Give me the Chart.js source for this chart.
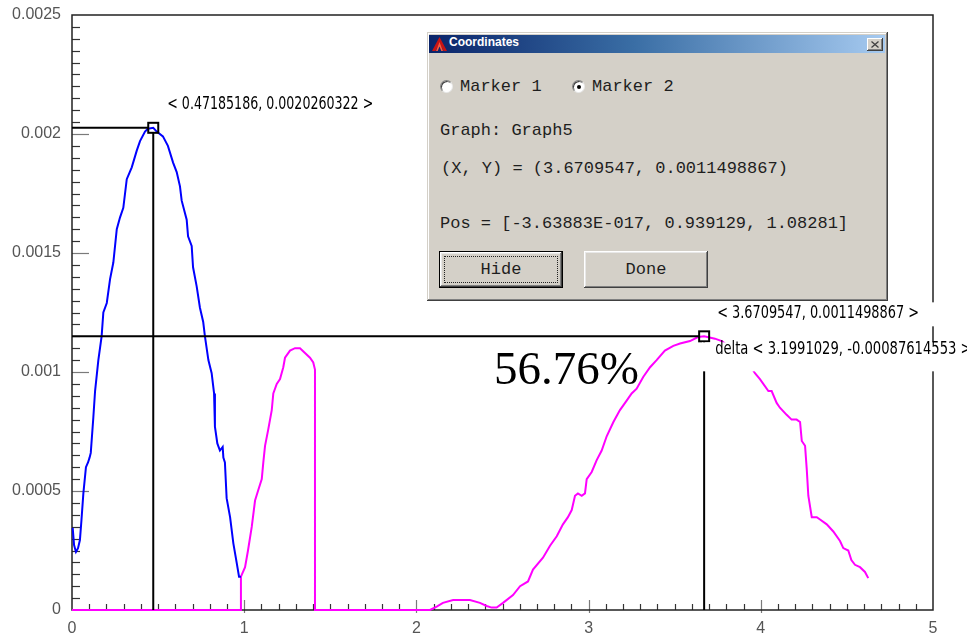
<!DOCTYPE html>
<html>
<head>
<meta charset="utf-8">
<title>Coordinates – Graph5</title>
<script src="https://cdn.jsdelivr.net/npm/chart.js@4.4.1/dist/chart.umd.min.js"></script>
<style>
  html, body { margin: 0; padding: 0; background: #ffffff; }
  #wrap { position: relative; width: 967px; height: 635px; overflow: hidden; }
  #plot { position: absolute; left: 0; top: 0; }
  .dlg {
    position: absolute; left: 427px; top: 32px; width: 461px; height: 269px;
    background: #d4d0c8; box-sizing: border-box;
    box-shadow: inset -1px -1px #404040, inset 1px 1px #d4d0c8,
                inset -2px -2px #808080, inset 2px 2px #ffffff;
    font-family: "Liberation Mono", "DejaVu Sans Mono", monospace;
    color: #1e1e1e;
  }
  .cap {
    position: absolute; left: 2px; top: 3px; width: 456px; height: 18px;
    background: linear-gradient(to right, #0a246a 0%, #3a6ea5 45%, #a6caf0 100%);
  }
  .cap .ttl {
    position: absolute; left: 20px; top: 0; line-height: 18px;
    font: bold 12px "Liberation Sans", "DejaVu Sans", sans-serif; color: #ffffff;
  }
  .cap svg.ico { position: absolute; left: 3px; top: 2px; }
  .cap .cls {
    position: absolute; left: 438px; top: 3px; width: 16px; height: 13px; box-sizing: border-box;
    background: #d4d0c8;
    box-shadow: inset -1px -1px #404040, inset 1px 1px #ffffff, inset -2px -2px #808080;
  }
  .cap .cls svg { position: absolute; left: 4px; top: 3px; }
  .txt { position: absolute; font-size: 17px; line-height: 20px; white-space: pre; }
  .radio {
    position: absolute; width: 13px; height: 13px; box-sizing: border-box; border-radius: 50%;
    background: #ffffff; border: 1px solid #808080; border-right-color: #e8e8e8; border-bottom-color: #e8e8e8;
    box-shadow: inset 1px 1px #404040;
  }
  .radio.on::after {
    content: ""; position: absolute; left: 4px; top: 4px; width: 4px; height: 4px;
    border-radius: 50%; background: #000000;
  }
  .btn {
    position: absolute; top: 219px; width: 124px; height: 37px; box-sizing: border-box;
    background: #d4d0c8; text-align: center; line-height: 37px; font-size: 17px;
    box-shadow: inset -1px -1px #404040, inset 1px 1px #ffffff,
                inset -2px -2px #808080, inset 2px 2px #e8e8e8;
  }
  .btn.def { border: 1px solid #000000; line-height: 35px; }
  .btn.def::after {
    content: ""; position: absolute; left: 4px; top: 4px; right: 4px; bottom: 4px;
    border: 1px dotted #222222;
  }
</style>
</head>
<body>
<div id="wrap">
  <canvas id="plot" width="967" height="635"></canvas>

  <div class="dlg">
    <div class="cap">
      <svg class="ico" width="15" height="14" viewBox="0 0 15 14">
        <polygon points="7.5,0 15,14 11.5,14 7.5,6 3.5,14 0,14" fill="#c81414"/>
        <polygon points="7.5,5 11,14 9.3,14 7.5,9.5 5.7,14 4,14" fill="#ff5a3c"/>
      </svg>
      <span class="ttl">Coordinates</span>
      <div class="cls">
        <svg width="8" height="7" viewBox="0 0 8 7">
          <path d="M0.5,0.5 L7.5,6.5 M7.5,0.5 L0.5,6.5" stroke="#404040" stroke-width="1.3"/>
        </svg>
      </div>
    </div>

    <div class="radio" style="left:13px; top:48px;"></div>
    <div class="txt" style="left:33px; top:45px;">Marker 1</div>
    <div class="radio on" style="left:145px; top:48px;"></div>
    <div class="txt" style="left:165px; top:45px;">Marker 2</div>

    <div class="txt" style="left:13px; top:89px;">Graph: Graph5</div>
    <div class="txt" id="xyLine" style="left:14px; top:127px;"></div>
    <div class="txt" style="left:13px; top:182px;">Pos = [-3.63883E-017, 0.939129, 1.08281]</div>

    <div class="btn def" style="left:12px;">Hide</div>
    <div class="btn" style="left:157px;">Done</div>
  </div>
</div>

<script>
// ---- axis ranges and tick labels ----
const xMin = 0, xMax = 5;
const yMin = 0, yMax = 0.0025;
const xTickLabels = ['0', '1', '2', '3', '4', '5'];
const yTickLabels = ['0', '0.0005', '0.001', '0.0015', '0.002', '0.0025'];

// ---- Graph 1 (blue trace) ----
const blueX = [0.004, 0.012, 0.023, 0.035, 0.046, 0.055, 0.066, 0.081, 0.093, 0.102,
  0.109, 0.124, 0.134, 0.153, 0.172, 0.182, 0.202, 0.221, 0.240, 0.260,
  0.279, 0.298, 0.318, 0.347, 0.376, 0.395, 0.424, 0.441, 0.47185186, 0.492,
  0.528, 0.557, 0.587, 0.608, 0.627, 0.637, 0.666, 0.674, 0.695, 0.703,
  0.724, 0.743, 0.762, 0.772, 0.792, 0.811, 0.825, 0.830, 0.844, 0.859,
  0.875, 0.879, 0.888, 0.898, 0.918, 0.937, 0.956, 0.970, 0.981];
const blueY = [0.000345, 0.000273, 0.000244, 0.00026, 0.000294, 0.000378, 0.00049, 0.0006, 0.00062, 0.00064,
  0.00066, 0.00081, 0.00092, 0.00105, 0.00115, 0.00125, 0.00129, 0.00139, 0.00146, 0.0016,
  0.00165, 0.00169, 0.00181, 0.00186, 0.00193, 0.00197, 0.00201, 0.002022, 0.0020260322, 0.00201,
  0.00199, 0.00195, 0.00188, 0.00184, 0.00178, 0.00172, 0.00164, 0.00157, 0.00153, 0.00144,
  0.00136, 0.00127, 0.00121, 0.00115, 0.00105, 0.000995, 0.00091, 0.00077, 0.0007, 0.00067,
  0.000685, 0.00064, 0.00062, 0.00047, 0.00039, 0.00028, 0.0002, 0.00014, 0.00014];

// ---- Graph 5 (magenta trace) ----
const magentaX = [0, 0.981, 0.981, 1.005, 1.022, 1.044, 1.063, 1.080, 1.102, 1.111,
  1.121, 1.140, 1.160, 1.169, 1.189, 1.208, 1.227, 1.237, 1.266, 1.295,
  1.324, 1.353, 1.382, 1.401, 1.411, 1.411, 2.079, 2.118, 2.154, 2.213,
  2.311, 2.369, 2.408, 2.437, 2.466, 2.503, 2.561, 2.602, 2.648, 2.677,
  2.735, 2.776, 2.815, 2.851, 2.880, 2.902, 2.921, 2.938, 2.960, 2.979,
  2.989, 3.018, 3.047, 3.076, 3.105, 3.144, 3.182, 3.221, 3.250, 3.279,
  3.318, 3.357, 3.395, 3.443, 3.492, 3.531, 3.589, 3.635, 3.6709547, 3.734,
  3.773, 3.850, 3.926, 3.966, 3.995, 4.044, 4.063, 4.092, 4.111, 4.150,
  4.179, 4.208, 4.228, 4.238, 4.257, 4.267, 4.276, 4.296, 4.325, 4.344,
  4.383, 4.421, 4.460, 4.479, 4.508, 4.526, 4.547, 4.576, 4.605, 4.624];
const magentaY = [0, 0, 0.00014, 0.00018, 0.00025, 0.00035, 0.00046, 0.0005, 0.00055, 0.00062,
  0.00069, 0.00076, 0.00084, 0.00091, 0.00095, 0.00097, 0.00102, 0.00106, 0.00109, 0.0011,
  0.0011, 0.00108, 0.00106, 0.00104, 0.00101, 0, 0, 0.000014, 0.00003, 0.000042,
  0.000042, 0.00003, 0.000017, 0.00001, 0.00001, 0.00003, 0.000063, 0.0001, 0.00012, 0.00017,
  0.00022, 0.00027, 0.00031, 0.00036, 0.00039, 0.00042, 0.00048, 0.00049, 0.00048, 0.00049,
  0.00055, 0.00058, 0.00063, 0.00067, 0.00073, 0.00079, 0.00084, 0.00088, 0.00091, 0.00093,
  0.00098, 0.00102, 0.00105, 0.00109, 0.00111, 0.00112, 0.00113, 0.001147, 0.0011498867, 0.00114,
  0.00113, 0.00109, 0.00104, 0.000995, 0.00097, 0.00092, 0.00092, 0.00087, 0.00085, 0.00082,
  0.0008, 0.0008, 0.00079, 0.00071, 0.00069, 0.00059, 0.00048, 0.00039, 0.00039, 0.00038,
  0.00036, 0.00033, 0.00029, 0.00026, 0.00025, 0.00021, 0.00019, 0.00018, 0.00016, 0.000134];

// ---- markers: marker 1 on the blue trace, marker 2 on the magenta trace ----
const markerX = [0.47185186, 3.6709547];
const markerY = [0.0020260322, 0.0011498867];
const markerText = ['< 0.47185186, 0.0020260322 >', '< 3.6709547, 0.0011498867 >'];
const deltaText = 'delta < 3.1991029, -0.00087614553 >';

// peak ratio printed on the plot (marker 2 / marker 1)
const ratioText = (markerY[1] / markerY[0] * 100).toFixed(2) + '%';

document.getElementById('xyLine').textContent =
  '(X, Y) = (' + markerX[1].toFixed(7) + ', ' + markerY[1].toFixed(10) + ')';

const toPoints = (xs, ys) => xs.map((x, i) => ({ x, y: ys[i] }));

const LABEL_FONT = '17px "Liberation Sans Narrow", "DejaVu Sans Condensed", "Liberation Sans", sans-serif';
const AXIS_FONT = { family: '"Liberation Sans", "DejaVu Sans", sans-serif', size: 16 };

// Frame, inward tick marks, crosshairs and marker readouts
const overlay = {
  id: 'overlay',
  beforeDatasetsDraw(chart) {
    const { ctx, chartArea: a, scales: { x, y } } = chart;
    ctx.save();
    ctx.lineWidth = 1.2;
    // y ticks: minor every 0.00005, major every 0.0005
    for (let i = 1; i < 50; i++) {
      const py = Math.round(y.getPixelForValue(i * 0.00005)) + 0.5;
      const major = i % 10 === 0;
      ctx.strokeStyle = major ? '#7a7a7a' : '#333333';
      ctx.beginPath();
      ctx.moveTo(a.left, py);
      ctx.lineTo(a.left + (major ? 17 : 8), py);
      ctx.stroke();
    }
    // x ticks: minor every 0.1, major every 1
    for (let i = 1; i < 50; i++) {
      const px = Math.round(x.getPixelForValue(i * 0.1)) + 0.5;
      const major = i % 10 === 0;
      ctx.strokeStyle = major ? '#7a7a7a' : '#333333';
      ctx.beginPath();
      ctx.moveTo(px, a.bottom + (major ? 3 : 0));
      ctx.lineTo(px, a.bottom - (major ? 10 : 6));
      ctx.stroke();
    }
    // frame
    ctx.strokeStyle = '#222222';
    ctx.lineWidth = 1.5;
    ctx.strokeRect(a.left, a.top, a.right - a.left, a.bottom - a.top);
    ctx.restore();
  },
  afterDatasetsDraw(chart) {
    const { ctx, chartArea: a, scales: { x, y } } = chart;
    const mx = markerX.map(v => x.getPixelForValue(v));
    const my = markerY.map(v => y.getPixelForValue(v));
    ctx.save();

    // crosshair lines and square markers
    ctx.strokeStyle = '#000000';
    ctx.lineWidth = 2;
    for (let i = 0; i < 2; i++) {
      ctx.beginPath();
      ctx.moveTo(a.left, my[i]);
      ctx.lineTo(mx[i] - 5, my[i]);
      ctx.moveTo(mx[i], my[i] + 5);
      ctx.lineTo(mx[i], a.bottom);
      ctx.stroke();
      ctx.strokeRect(mx[i] - 5, my[i] - 5, 10, 10);
    }

    // readout labels on white boxes
    ctx.font = LABEL_FONT;
    ctx.textBaseline = 'middle';
    const squeeze = 206 / ctx.measureText(markerText[0]).width;
    const tag = (text, tx, ty, box, stretch) => {
      ctx.fillStyle = '#ffffff';
      ctx.fillRect(box[0], box[1], box[2] - box[0], box[3] - box[1]);
      ctx.fillStyle = '#000000';
      ctx.save();
      ctx.translate(tx, ty);
      ctx.scale(squeeze * stretch, 1);
      ctx.fillText(text, 0, 0);
      ctx.restore();
    };
    tag(markerText[0], mx[0] + 14, my[0] - 23, [mx[0] + 8, my[0] - 35, mx[0] + 230, my[0] - 11], 1);
    tag(markerText[1], mx[1] + 13, my[1] - 23, [mx[1] + 4, my[1] - 34, a.right + 3, my[1] - 10], 1.02);
    tag(deltaText, mx[1] + 11, my[1] + 13, [mx[1] - 2, my[1] + 6, chart.width, my[1] + 35], 1.04);

    // ratio of the two marked peaks
    ctx.fillStyle = '#000000';
    ctx.font = '47px "Liberation Serif", "Times New Roman", serif';
    ctx.textBaseline = 'alphabetic';
    ctx.fillText(ratioText, 494, 384);
    ctx.restore();
  }
};

new Chart(document.getElementById('plot'), {
  type: 'scatter',
  data: {
    datasets: [
      {
        label: 'Graph1',
        data: toPoints(blueX, blueY),
        showLine: true,
        borderColor: '#0000ff',
        borderWidth: 2,
        pointRadius: 0,
        tension: 0,
        clip: false
      },
      {
        label: 'Graph5',
        data: toPoints(magentaX, magentaY),
        showLine: true,
        borderColor: '#ff00ff',
        borderWidth: 2,
        pointRadius: 0,
        tension: 0,
        clip: false
      }
    ]
  },
  options: {
    responsive: false,
    animation: false,
    events: [],
    layout: { padding: { top: 15, right: 34, left: 0, bottom: 0 } },
    plugins: { legend: { display: false }, tooltip: { enabled: false } },
    scales: {
      x: {
        type: 'linear', min: xMin, max: xMax,
        grid: { display: false, drawTicks: true, tickLength: 9 },
        border: { display: false },
        ticks: {
          stepSize: 1, padding: 0, color: '#555555', font: AXIS_FONT,
          maxRotation: 0,
          callback: (v, i) => xTickLabels[i]
        },
        afterFit: s => { s.height = 25; }
      },
      y: {
        type: 'linear', min: yMin, max: yMax,
        grid: { display: false, drawTicks: true, tickLength: 11 },
        border: { display: false },
        ticks: {
          stepSize: 0.0005, padding: 0, color: '#555555', font: AXIS_FONT,
          callback: (v, i) => yTickLabels[i]
        },
        afterFit: s => { s.width = 72; }
      }
    }
  },
  plugins: [overlay]
});
</script>
</body>
</html>
